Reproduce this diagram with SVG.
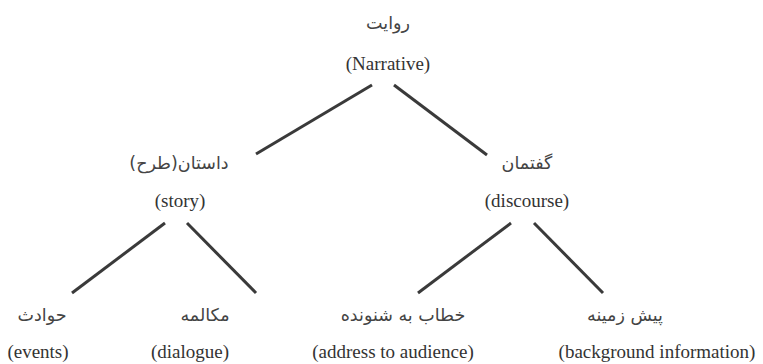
<svg xmlns="http://www.w3.org/2000/svg" width="763" height="364" viewBox="0 0 763 364">
<style>
.en{font-family:"Liberation Serif","Times New Roman",serif;font-size:19px;fill:#333;text-anchor:middle}
.fa{font-family:"DejaVu Sans","Noto Sans",sans-serif;font-size:17.5px;fill:#444;text-anchor:middle;direction:rtl}
.ln{stroke:#3a3a3a;stroke-width:3;stroke-linecap:butt;fill:none}
</style>
<rect width="763" height="364" fill="#fff"/>
<g id="connectors">
<line class="ln" x1="372" y1="85" x2="256" y2="154"/>
<line class="ln" x1="394" y1="85" x2="487" y2="155"/>
<line class="ln" x1="165" y1="223" x2="72" y2="293"/>
<line class="ln" x1="187" y1="223" x2="256" y2="293"/>
<line class="ln" x1="511" y1="223" x2="418" y2="293"/>
<line class="ln" x1="534" y1="223" x2="603" y2="293"/>
</g>
<g id="narrative">
<text class="fa" x="388" y="29">روایت</text>
<text class="en" x="388" y="70">(Narrative)</text>
</g>
<g id="story">
<text class="fa" x="179" y="169">داستان(طرح)</text>
<text class="en" x="180" y="207">(story)</text>
</g>
<g id="discourse">
<text class="fa" x="527" y="169">گفتمان</text>
<text class="en" x="527" y="207">(discourse)</text>
</g>
<g id="events">
<text class="fa" x="42" y="321">حوادث</text>
<text class="en" x="38" y="358">(events)</text>
</g>
<g id="dialogue">
<text class="fa" x="205" y="321">مکالمه</text>
<text class="en" x="190" y="358">(dialogue)</text>
</g>
<g id="address">
<text class="fa" x="403" y="321">خطاب به شنونده</text>
<text class="en" x="393" y="358">(address to audience)</text>
</g>
<g id="background">
<text class="fa" x="625" y="321">پیش زمینه</text>
<text class="en" x="657" y="358">(background information)</text>
</g>
</svg>
